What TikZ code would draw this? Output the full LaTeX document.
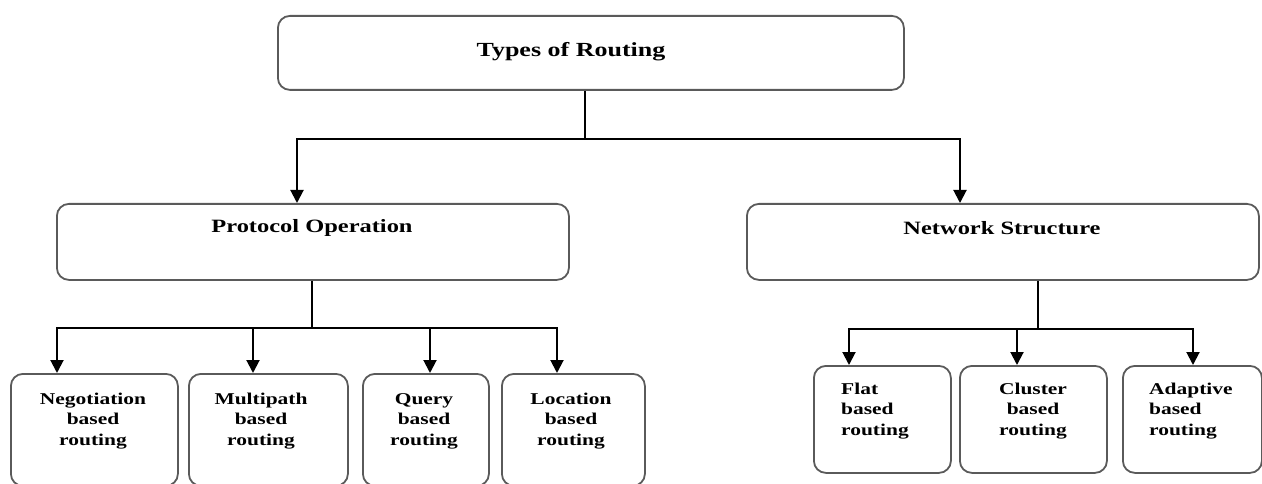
\documentclass[tikz,border=0pt]{standalone}
\usepackage{fontspec}
\setmainfont[FakeStretch=1.3]{Liberation Serif}
\usetikzlibrary{arrows.meta,calc}
\definecolor{boxgray}{HTML}{5A5A5A}
\begin{document}
\begin{tikzpicture}[x=1pt,y=-1pt,
  box/.style={draw=boxgray, line width=1.8pt, rounded corners=12pt, inner sep=0pt, anchor=north west},
  conn/.style={line width=2pt, black},
  arr/.style={conn, -{Triangle[length=13pt,width=13pt]}},
  lblA/.style={font=\bfseries\fontsize{20}{24}\selectfont, inner sep=0pt},
  lblB/.style={font=\bfseries\fontsize{18.8}{22}\selectfont, inner sep=0pt},
  lblC/.style={font=\bfseries\fontsize{16.5}{20.5}\selectfont, inner sep=0pt, align=center},
  lblL/.style={font=\bfseries\fontsize{16.5}{20.5}\selectfont, inner sep=0pt, align=left, anchor=west}]
\useasboundingbox (0,0) rectangle (1262,484);

% boxes
\node[box, minimum width=626pt, minimum height=74pt] (top) at (277,15) {};
\node[box, minimum width=512pt, minimum height=76pt] (proto) at (56,203) {};
\node[box, minimum width=512pt, minimum height=76pt] (net) at (746,203) {};

\node[box, minimum width=167pt, minimum height=112pt] (neg) at (10,373) {};
\node[box, minimum width=159pt, minimum height=112pt] (mul) at (188,373) {};
\node[box, minimum width=126pt, minimum height=112pt] (que) at (362,373) {};
\node[box, minimum width=143pt, minimum height=112pt] (loc) at (501,373) {};

\node[box, minimum width=137pt, minimum height=107pt] (flat) at (813,365) {};
\node[box, minimum width=147pt, minimum height=107pt] (clu) at (959,365) {};
\node[box, minimum width=139pt, minimum height=107pt] (ada) at (1122,365) {};

% labels
\node[lblA] (ttop) at (571,52) {Types of Routing};
\node[lblB] (tproto) at (312,228) {Protocol Operation};
\node[lblB] (tnet) at (1002,228) {Network Structure};

\node[lblC] (tneg) at (93,421) {Negotiation\\based\\routing};
\node[lblC] (tmul) at (261,421) {Multipath\\based\\routing};
\node[lblC] (tque) at (424,421) {Query\\based\\routing};
\node[lblC] (tloc) at (571,421) {Location\\based\\routing};

\node[lblL] (tflat) at (841,411) {Flat\\based\\routing};
\node[lblC] (tclu) at (1033,411) {Cluster\\based\\routing};
\node[lblL] (tada) at (1149,411) {Adaptive\\based\\routing};

% junctions
\coordinate (j1) at (585,139);
\coordinate (j2) at (312,328);
\coordinate (j3) at (1038,329);

\draw[conn] (top.south -| j1) -- (j1);
\draw[arr] (j1) -| ($(proto.north west)+(241,0)$);
\draw[arr] (j1) -| ($(net.north west)+(214,0)$);

\draw[conn] (proto.south -| j2) -- (j2);
\draw[arr] (j2) -| ($(neg.north west)+(47,0)$);
\draw[arr] (j2) -| ($(mul.north west)+(65,0)$);
\draw[arr] (j2) -| ($(que.north west)+(68,0)$);
\draw[arr] (j2) -| ($(loc.north west)+(56,0)$);

\draw[conn] (net.south -| j3) -- (j3);
\draw[arr] (j3) -| ($(flat.north west)+(36,0)$);
\draw[arr] (j3) -| ($(clu.north west)+(58,0)$);
\draw[arr] (j3) -| ($(ada.north west)+(71,0)$);
\end{tikzpicture}
\end{document}
